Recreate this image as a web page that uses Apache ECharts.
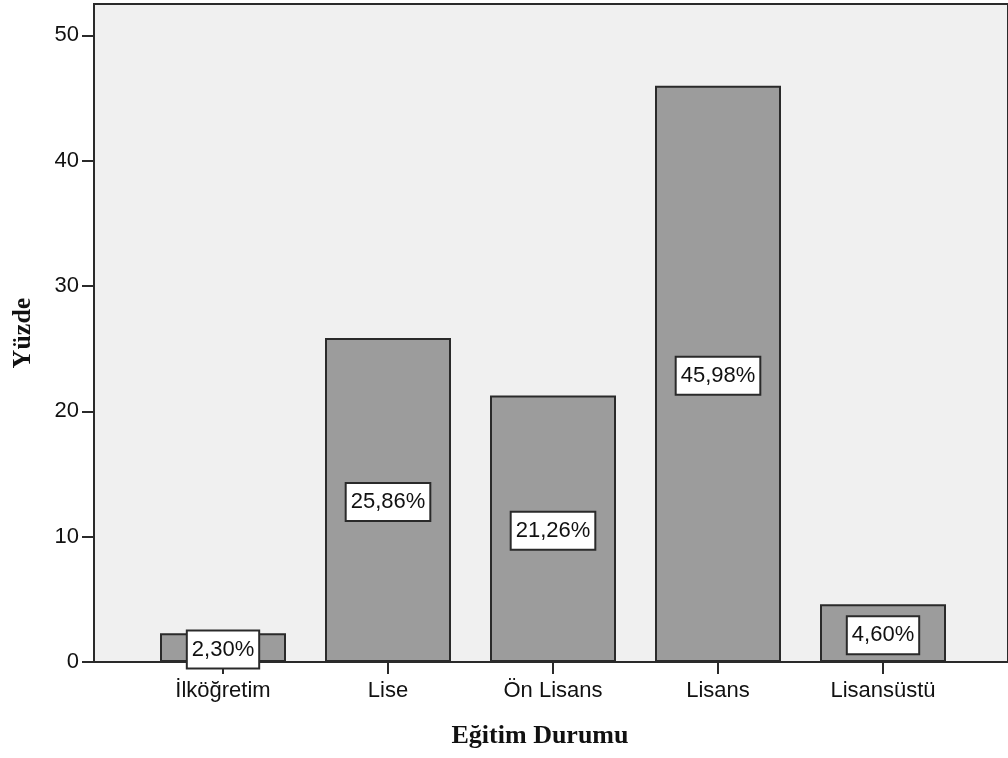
<!DOCTYPE html>
<html>
<head>
<meta charset="utf-8">
<script src="https://cdn.jsdelivr.net/npm/echarts@6/dist/echarts.min.js"></script>
<style>
  html, body { margin: 0; padding: 0; background: #fff; }
  #chart { width: 1008px; height: 758px; }
</style>
</head>
<body>
<div id="chart"></div>
<script>
// data
const categories = ["İlköğretim", "Lise", "Ön Lisans", "Lisans", "Lisansüstü"];
const percents = [2.30, 25.86, 21.26, 45.98, 4.60];
const yTicks = [0, 10, 20, 30, 40, 50];

const chart = echarts.init(document.getElementById("chart"));

const labelFont = { fontFamily: "Liberation Sans", fontSize: 22, color: "#111" };
const titleFont = { fontFamily: "Liberation Serif", fontWeight: "bold", fontSize: 26, color: "#111" };
const lineCol = "#2a2a2a";

const option = {
  animation: false,
  backgroundColor: "#fff",
  grid: [
    // frame with grey background, runs past the right edge
    {
      left: 94, top: 4, right: -20, bottom: 96,
      show: true, backgroundColor: "#f0f0f0",
      borderColor: lineCol, borderWidth: 2
    },
    // bars
    { left: 140.5, width: 825, top: 4, bottom: 96 }
  ],
  xAxis: [
    { gridIndex: 0, type: "value", min: 0, max: 1, show: false },
    {
      gridIndex: 1,
      type: "category",
      data: categories,
      axisLine: { show: false },
      axisTick: { show: true, length: 12, alignWithLabel: true, lineStyle: { color: lineCol, width: 2 } },
      axisLabel: Object.assign({ margin: 18, interval: 0 }, labelFont),
      name: "Eğitim Durumu",
      nameLocation: "middle",
      nameGap: 61,
      nameTextStyle: Object.assign({ padding: [0, 26, 0, 0] }, titleFont)
    }
  ],
  yAxis: [
    {
      gridIndex: 0,
      type: "value",
      min: 0,
      max: 52.5,
      axisLine: { show: true, lineStyle: { color: lineCol, width: 2 } },
      axisTick: { show: true, inside: false, length: 12, customValues: yTicks, lineStyle: { color: lineCol, width: 2 } },
      axisLabel: Object.assign({ margin: 15, customValues: yTicks }, labelFont),
      splitLine: { show: false },
      name: "Yüzde",
      nameLocation: "middle",
      nameRotate: 90,
      nameGap: 58,
      nameTextStyle: titleFont
    },
    { gridIndex: 1, type: "value", min: 0, max: 52.5, show: false }
  ],
  series: [
    {
      type: "bar",
      xAxisIndex: 1,
      yAxisIndex: 1,
      data: percents,
      barWidth: 126,
      itemStyle: { color: "#9c9c9c", borderColor: lineCol, borderWidth: 2 },
      label: {
        show: true,
        position: "inside",
        offset: [0, 2],
        formatter: (p) => p.value.toFixed(2).replace(".", ",") + "%",
        fontFamily: "Liberation Sans",
        fontSize: 22,
        color: "#111",
        backgroundColor: "#fff",
        borderColor: lineCol,
        borderWidth: 2,
        padding: [7, 4, 7, 4]
      }
    }
  ]
};

chart.setOption(option);
</script>
</body>
</html>
